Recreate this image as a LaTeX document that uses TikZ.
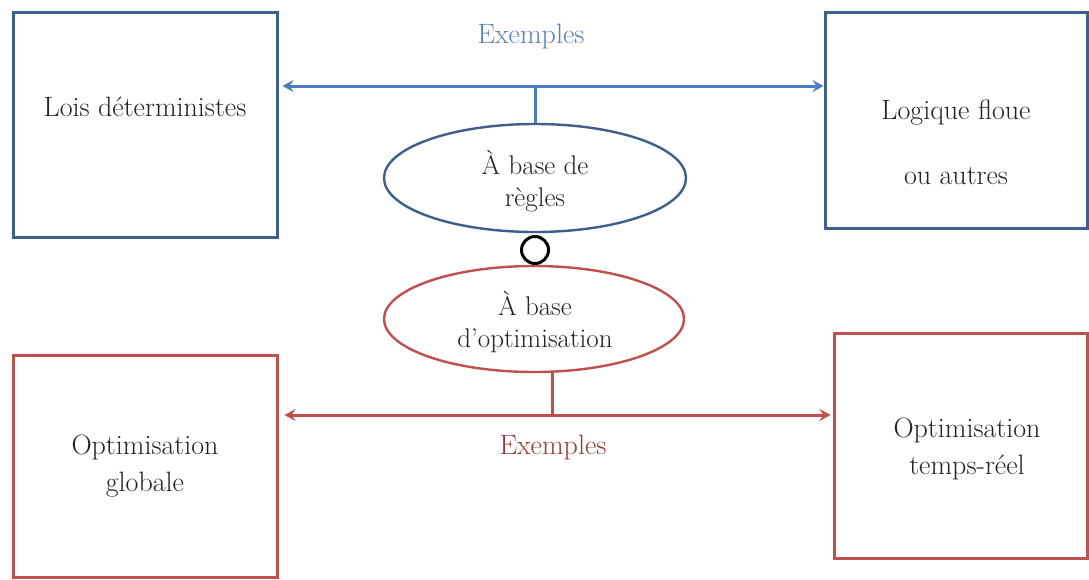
\documentclass[tikz,border=0pt]{standalone}
\usepackage{fontspec}
\usetikzlibrary{arrows.meta,shapes.geometric}
\definecolor{boxblue}{HTML}{3E5F8C}
\definecolor{arrowblue}{HTML}{4A7DBA}
\definecolor{textblue}{HTML}{5A80AE}
\definecolor{boxred}{HTML}{C0504D}
\definecolor{textred}{HTML}{963838}
\definecolor{ink}{HTML}{222222}
\tikzset{
  txt/.style={text=ink, font=\fontsize{28}{37}\selectfont, align=center, inner sep=0pt},
  smalltxt/.style={text=ink, font=\fontsize{27}{32}\selectfont, align=center, inner sep=0pt},
  bluebox/.style={draw=boxblue, line width=3pt, rectangle, inner sep=0pt},
  redbox/.style={draw=boxred, line width=3pt, rectangle, inner sep=0pt},
  blueoval/.style={draw=boxblue, line width=2.4pt, ellipse, inner sep=0pt, minimum width=302pt, minimum height=108pt},
  redoval/.style={draw=boxred, line width=2.4pt, ellipse, inner sep=0pt, minimum width=300pt, minimum height=106pt},
  >={Stealth[length=11pt, width=12pt, inset=4pt]},
  bluelink/.style={draw=arrowblue, line width=3pt, <->},
  redlink/.style={draw=boxred, line width=3pt, <->},
  bluestem/.style={draw=arrowblue, line width=3pt},
  redstem/.style={draw=boxred, line width=3pt},
}
\begin{document}
\begin{tikzpicture}[x=1pt, y=-1pt]
  \useasboundingbox (0,0) rectangle (1089,579);
  \fill[white] (0,0) rectangle (1089,579);

  % four boxes
  \node[bluebox, minimum width=264pt, minimum height=225pt] (lois) at (145,124.5) {};
  \node[bluebox, minimum width=262pt, minimum height=216pt] (logique) at (956,120) {};
  \node[redbox, minimum width=264pt, minimum height=222pt] (globale) at (145,466) {};
  \node[redbox, minimum width=253pt, minimum height=225pt] (tempsreel) at (960.5,445.5) {};

  % box labels
  \node[txt] (loistxt) at (145,107) {Lois déterministes};
  \node[txt] (logtxt) at (956,142.5) {Logique floue\\[28pt]ou autres};
  \node[txt] (globtxt) at (145,466.5) {Optimisation\\globale};
  \node[txt] (trtxt) at (967,448.5) {Optimisation\\temps-réel};

  % the two families and the joint between them
  \node[blueoval] (regles) at (535,178) {};
  \node[smalltxt] (reglestxt) at (535,181) {À base de\\règles};
  \node[redoval] (optim) at (534,319) {};
  \node[smalltxt] (optimtxt) at (535,322.5) {À base\\d’optimisation};
  \node[circle, draw=black, line width=3pt, minimum size=27pt, inner sep=0pt] (joint) at (535,250) {};

  % example bars
  \coordinate (topbar) at (535,86);
  \coordinate (lowbar) at (552,415);
  \path[bluelink, shorten <=4pt] (lois.east |- topbar) -- (logique.west |- topbar);
  \path[bluestem] (regles.north) -- (topbar);
  \path[redlink, shorten <=6pt, shorten >=2pt] (globale.east |- lowbar) -- (tempsreel.west |- lowbar);
  \path[redstem] (lowbar |- optim.south) ++(0,-1) -- (lowbar);

  \node[font=\fontsize{28}{34}\selectfont, text=textblue, inner sep=0pt] (exhaut) at (531,37) {Exemples};
  \node[font=\fontsize{28}{34}\selectfont, text=textred, inner sep=0pt] (exbas) at (553,448) {Exemples};
\end{tikzpicture}
\end{document}
